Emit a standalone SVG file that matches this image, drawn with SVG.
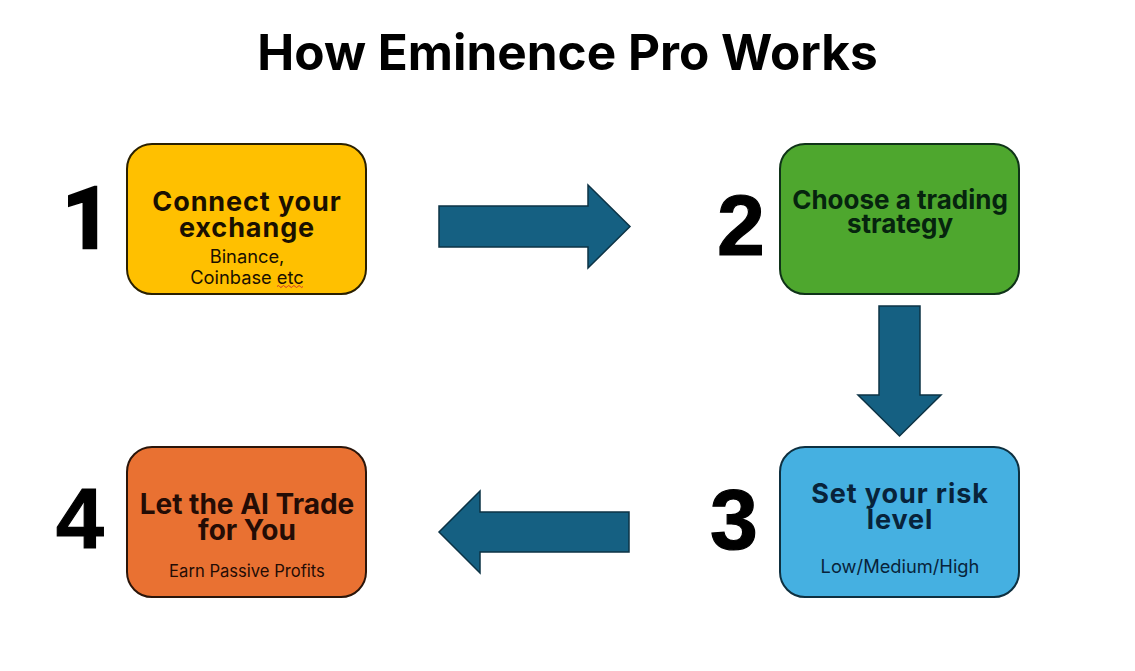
<svg xmlns="http://www.w3.org/2000/svg" width="1135" height="671" viewBox="0 0 1135 671">
<style>
text{font-family:Inter,"Liberation Sans",sans-serif;text-anchor:middle}
.title{font-size:49.500px;font-weight:700;fill:#000}
.num{font-family:"Liberation Sans",Arial,sans-serif;font-size:86px;font-weight:700;fill:#000;stroke:#000;stroke-width:1.2}
.one{font-family:Roboto,"Liberation Sans",sans-serif;font-size:86px;stroke-width:2.600}
.head{font-size:28px;font-weight:700}
.wide{font-size:27px;letter-spacing:.9px}
.headsm{font-size:26px;font-weight:700}
.sub{font-size:18.300px;font-weight:400}
.subsm{font-size:16.600px;font-weight:400}
.box{stroke-width:2}
.arrow{fill:#156082;stroke:#0c3345;stroke-width:1.5}
#node1 text{fill:#1a1000}
#node1 text.num,#node2 text.num,#node3 text.num,#node4 text.num{fill:#000}
#node2 text{fill:#06240e}
#node3 text{fill:#08233a}
#node4 text{fill:#240c05}
</style>
<rect width="1135" height="671" fill="#fff"/>
<text id="title" class="title" x="567.500" y="70">How Eminence Pro Works</text>
<g id="connectors">
<path class="arrow" d="M439 206H588V185L630 226.500 588 268V247H439Z"/>
<path class="arrow" d="M879 306H920V395H941L899.500 436 858 395H879Z"/>
<path class="arrow" d="M629 512H480V491L439 532 480 573V552H629Z"/>
</g>
<g id="node1">
<text class="num one" x="87" y="248">1</text>
<rect class="box" x="127" y="144" width="239" height="150" rx="25" fill="#ffc000" stroke="#2a2000"/>
<text class="head wide" x="247" y="211">Connect your</text>
<text class="head wide" x="247" y="237">exchange</text>
<text class="sub" x="247" y="263">Binance,</text>
<text class="sub" x="247" y="284">Coinbase etc</text>
<path d="M277 286.500q1.300-2 2.600 0t2.600 0 2.600 0 2.600 0 2.600 0 2.600 0 2.600 0 2.600 0 2.600 0 2.600 0" fill="none" stroke="#d0352b" stroke-width="1"/>
</g>
<g id="node2">
<text class="num" x="741" y="255">2</text>
<rect class="box" x="780" y="144" width="239" height="150" rx="25" fill="#4ea72e" stroke="#0f3318"/>
<text class="headsm" x="900" y="209">Choose a trading</text>
<text class="headsm" x="900" y="233">strategy</text>
</g>
<g id="node3">
<text class="num" x="734" y="549">3</text>
<rect class="box" x="780" y="447" width="239" height="150" rx="25" fill="#45b0e1" stroke="#0e3040"/>
<text class="head wide" x="900" y="503">Set your risk</text>
<text class="head wide" x="900" y="529">level</text>
<text class="sub" x="900" y="573">Low/Medium/High</text>
</g>
<g id="node4">
<text class="num" x="80" y="548">4</text>
<rect class="box" x="127" y="447" width="239" height="150" rx="25" fill="#e97132" stroke="#2a150a"/>
<text class="head" x="247" y="514">Let the AI Trade</text>
<text class="head" x="247" y="540">for You</text>
<text class="subsm" x="247" y="577">Earn Passive Profits</text>
</g>
</svg>
